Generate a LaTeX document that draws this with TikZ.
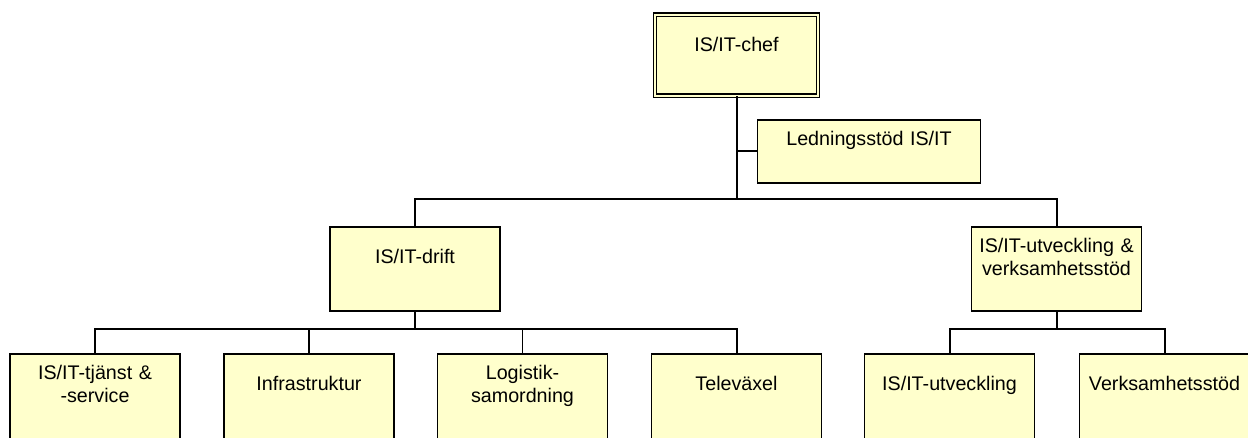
\documentclass[tikz,border=0pt]{standalone}
\usepackage{fontspec}
\setmainfont{Liberation Sans}
\definecolor{boxfill}{HTML}{FFFFCC}
\tikzset{
	unit/.style={draw, fill=boxfill, line width=1.8pt, inner sep=0pt, text width=#1, align=center, anchor=north, text height=37pt, font=\fontsize{19.7}{23}\selectfont},
	unit/.default=170pt,
	twoline/.style={text height=26pt},
	trunk/.style={line width=2pt},
	drop/.style={line width=1.5pt}
}
\begin{document}
\begin{tikzpicture}[x=1pt,y=-1pt]
	\useasboundingbox (0,0) rectangle (1248,437);
	\clip (0,0) rectangle (1248,437);
	%top
		\node[unit=163pt, text depth=44pt, line width=1.3pt, double=boxfill, double distance=1.8pt] (chef) at (736.5,14) {IS/IT-chef};
		\node[unit=223pt, text height=26pt, text depth=37pt] (led) at (869,119) {Ledningsstöd IS/IT};
	%middle
		\node[unit, text depth=47pt] (drift) at (415,226) {IS/IT-drift};
		\node[unit, twoline, text depth=58pt] (utv) at (1056.5,226) {IS/IT-utveckling \&\\verksamhetsstöd};
	%bottom
		\node[unit, twoline, text depth=100pt] (tj) at (95,353) {IS/IT-tjänst \&\\-service};
		\node[unit, text depth=100pt] (inf) at (309,353) {Infrastruktur};
		\node[unit, twoline, text depth=100pt] (log) at (522.5,353) {Logistik-\\samordning};
		\node[unit, text depth=100pt] (tv) at (736.5,353) {Televäxel};
		\node[unit, text depth=100pt] (uv) at (949.5,353) {IS/IT-utveckling};
		\node[unit, text depth=100pt] (vs) at (1164.5,353) {Verksamhetsstöd};
	%lines
		\coordinate (bus1) at (736.5,199);
		\draw[trunk] (chef.south) -- (bus1);
		\draw[trunk] (chef.south |- led.west) -- (led.west);
		\draw[trunk] (drift.north) |- (bus1) -| (utv.north);
		\path (drift.south) ++(0,17) coordinate (bus2);
		\draw[trunk] (drift.south) -- (bus2);
		\draw[trunk] (tj.north) |- (bus2) -| (tv.north);
		\foreach \n in {inf,log}
			\draw[drop] (\n.north) -- (\n.north |- bus2);
		\path (utv.south) ++(0,17) coordinate (bus3);
		\draw[trunk] (utv.south) -- (bus3);
		\draw[trunk] (uv.north) |- (bus3) -| (vs.north);
\end{tikzpicture}
\end{document}
